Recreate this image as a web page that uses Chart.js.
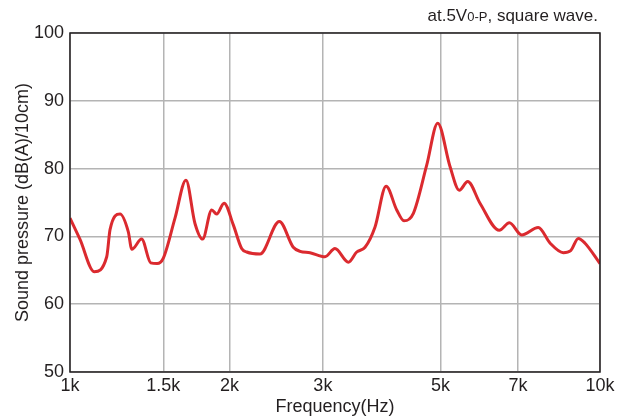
<!DOCTYPE html>
<html lang="en">
<head>
<meta charset="UTF-8">
<title>Sound pressure vs frequency</title>
<script src="https://cdn.jsdelivr.net/npm/chart.js"></script>
<style>
  html, body { margin: 0; padding: 0; background: #fff; overflow: hidden; }
  #wrap { width: 624px; height: 418px; }
</style>
</head>
<body>
<div id="wrap"><canvas id="chart"></canvas></div>
<script>
  // data
  const freqHz = [1000, 1044, 1111, 1173, 1190, 1243, 1288, 1308, 1365, 1420, 1460, 1500,
    1578, 1655, 1721, 1779, 1851, 1891, 1953, 2033, 2108, 2155, 2283, 2483, 2638, 2717,
    2837, 3028, 3162, 3352, 3475, 3603, 3763, 3948, 4135, 4267, 4445, 4710, 4941, 5212,
    5427, 5628, 5937, 6457, 6745, 7116, 7647, 8052, 8527, 8805, 9100, 9370, 10000];
  const splDb = [72.7, 69.6, 64.8, 67.0, 71.0, 73.3, 70.7, 68.1, 69.6, 66.1, 66.0, 66.8,
    72.7, 78.3, 71.9, 69.6, 73.9, 73.3, 74.9, 71.7, 68.2, 67.7, 67.4, 72.2, 68.4, 67.8,
    67.6, 67.0, 68.2, 66.2, 67.7, 68.4, 71.4, 77.4, 73.9, 72.3, 73.4, 80.5, 86.7, 80.3,
    76.8, 78.1, 74.9, 70.9, 72.0, 70.2, 71.3, 69.0, 67.6, 67.9, 69.7, 69.0, 66.0];
  const xTicks = [1000, 1500, 2000, 3000, 5000, 7000, 10000];
  const xTickLabels = ['1k', '1.5k', '2k', '3k', '5k', '7k', '10k'];

  const FONT = 'Liberation Sans, Arial, sans-serif';
  const ink = '#231f20';
  const gridColor = '#b4b4b4';

  // dark frame round the plot + the note in the top right corner
  const framePlugin = {
    id: 'frame',
    afterDatasetsDraw(chart) {
      const { ctx, chartArea: a } = chart;
      ctx.save();
      ctx.strokeStyle = ink;
      ctx.lineWidth = 1.5;
      ctx.strokeRect(a.left, a.top, a.right - a.left, a.bottom - a.top);
      // "at.5V0-P, square wave."
      ctx.fillStyle = ink;
      ctx.textBaseline = 'alphabetic';
      const y = 21;
      const parts = [['at.5V', 17], ['0-P', 13], [', square wave.', 17]];
      let widths = parts.map(p => { ctx.font = p[1] + 'px ' + FONT; return ctx.measureText(p[0]).width; });
      let x = a.right - 2 - widths.reduce((s, w) => s + w, 0);
      parts.forEach((p, i) => {
        ctx.font = p[1] + 'px ' + FONT;
        ctx.fillText(p[0], x, y);
        x += widths[i];
      });
      ctx.restore();
    }
  };

  new Chart(document.getElementById('chart'), {
    type: 'line',
    data: {
      datasets: [{
        data: freqHz.map((f, i) => ({ x: f, y: splDb[i] })),
        borderColor: '#db2a2f',
        borderWidth: 3,
        pointRadius: 0,
        cubicInterpolationMode: 'monotone',
        fill: false,
      }]
    },
    options: {
      responsive: true,
      maintainAspectRatio: false,
      animation: false,
      layout: { padding: { top: 33, right: 24, bottom: 0, left: 0 } },
      plugins: { legend: { display: false }, tooltip: { enabled: false } },
      scales: {
        x: {
          type: 'logarithmic',
          min: 1000,
          max: 10000,
          afterBuildTicks: (axis) => { axis.ticks = xTicks.map(v => ({ value: v })); },
          afterFit: (axis) => { axis.height = 46; },
          grid: { color: gridColor, lineWidth: 1.5, drawTicks: false },
          border: { display: false },
          ticks: {
            autoSkip: false,
            maxRotation: 0,
            padding: 3,
            color: ink,
            font: { family: FONT, size: 18 },
            callback: (v) => xTickLabels[xTicks.indexOf(v)],
          },
          title: {
            display: true,
            text: 'Frequency(Hz)',
            color: ink,
            font: { family: FONT, size: 18 },
            padding: { top: 0, bottom: 0 },
          },
        },
        y: {
          min: 50,
          max: 100,
          afterFit: (axis) => { axis.width = 70; },
          grid: { color: gridColor, lineWidth: 1.5, drawTicks: false },
          border: { display: false },
          ticks: {
            stepSize: 10,
            padding: 6,
            color: ink,
            font: { family: FONT, size: 18 },
          },
          title: {
            display: true,
            text: 'Sound pressure (dB(A)/10cm)',
            color: ink,
            font: { family: FONT, size: 18 },
            padding: { top: 12, bottom: 0 },
          },
        },
      },
    },
    plugins: [framePlugin],
  });
</script>
</body>
</html>
